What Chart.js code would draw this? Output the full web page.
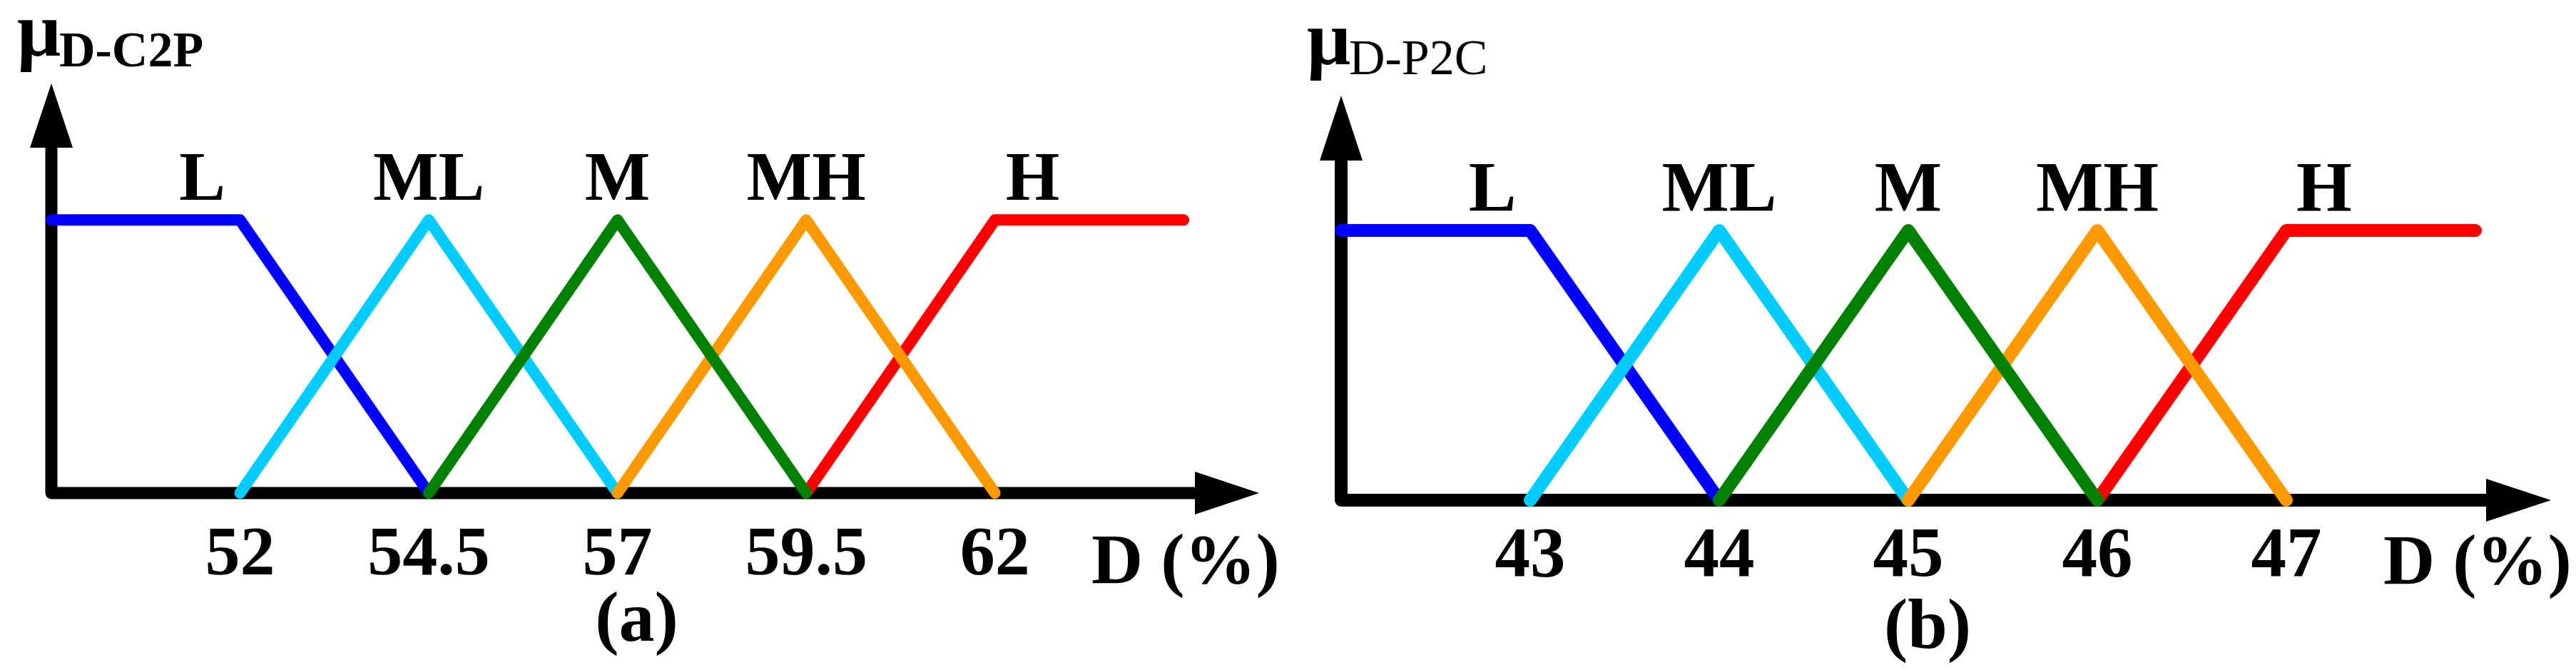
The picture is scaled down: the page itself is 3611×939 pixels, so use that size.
<!DOCTYPE html>
<html>
<head>
<meta charset="utf-8">
<script src="https://cdn.jsdelivr.net/npm/chart.js@4.4.0/dist/chart.umd.min.js"></script>
<style>
  body { margin: 0; background: #fff; width: 3611px; height: 939px; position: relative; overflow: hidden; }
  .panel { position: absolute; top: 0; height: 939px; }
</style>
</head>
<body>
<div class="panel" style="left:0;width:1800px"><canvas id="chartC2P" width="1800" height="939"></canvas></div>
<div class="panel" style="left:1800px;width:1811px"><canvas id="chartP2C" width="1811" height="939"></canvas></div>
<script>
/* Membership terms */
const termNames = ['L', 'ML', 'M', 'MH', 'H'];
const termColors = ['#0000ff', '#00ccff', '#008000', '#ff9900', '#ff0000'];
const termOrder = [4, 3, 0, 1, 2]; // lower = drawn on top
const termY = 1.075;

/* (a) duty cycle C2P */
const c2pTicks = [52, 54.5, 57, 59.5, 62];
const c2pL  = [[49.5, 1], [52, 1], [54.5, 0]];
const c2pML = [[52, 0], [54.5, 1], [57, 0]];
const c2pM  = [[54.5, 0], [57, 1], [59.5, 0]];
const c2pMH = [[57, 0], [59.5, 1], [62, 0]];
const c2pH  = [[59.5, 0], [62, 1], [64.5, 1]];
const c2pTermX = [51.5, 54.5, 57, 59.5, 62.5];

/* (b) duty cycle P2C */
const p2cTicks = [43, 44, 45, 46, 47];
const p2cL  = [[42, 1], [43, 1], [44, 0]];
const p2cML = [[43, 0], [44, 1], [45, 0]];
const p2cM  = [[44, 0], [45, 1], [46, 0]];
const p2cMH = [[45, 0], [46, 1], [47, 0]];
const p2cH  = [[46, 0], [47, 1], [48, 1]];
const p2cTermX = [42.8, 44, 45, 46, 47.2];

const serif = '"Liberation Serif", "Times New Roman", serif';

/* Axes with arrows, term names, titles */
const decor = {
  id: 'decor',
  beforeDatasetsDraw(chart, args, o) {
    const ctx = chart.ctx, a = chart.chartArea;
    ctx.save();
    ctx.strokeStyle = '#000';
    ctx.fillStyle = '#000';
    ctx.lineWidth = o.axisWidth;
    ctx.lineJoin = 'round';
    ctx.beginPath();
    ctx.moveTo(a.left, a.top + o.arrowLen - 2);
    ctx.lineTo(a.left, a.bottom);
    ctx.lineTo(a.right - o.arrowLen + 2, a.bottom);
    ctx.stroke();
    ctx.beginPath();
    ctx.moveTo(a.left, a.top);
    ctx.lineTo(a.left - o.arrowHalf, a.top + o.arrowLen);
    ctx.lineTo(a.left + o.arrowHalf, a.top + o.arrowLen);
    ctx.closePath();
    ctx.fill();
    ctx.beginPath();
    ctx.moveTo(a.right, a.bottom);
    ctx.lineTo(a.right - o.arrowLen, a.bottom - o.arrowHalf);
    ctx.lineTo(a.right - o.arrowLen, a.bottom + o.arrowHalf);
    ctx.closePath();
    ctx.fill();
    ctx.restore();
  },
  afterDraw(chart, args, o) {
    const ctx = chart.ctx, a = chart.chartArea;
    const xs = chart.scales.x, ys = chart.scales.y;
    ctx.save();
    ctx.fillStyle = '#000';
    ctx.textBaseline = 'alphabetic';

    ctx.textAlign = 'center';
    ctx.font = 'bold ' + o.termSize + 'px ' + serif;
    o.termX.forEach((v, i) => {
      ctx.fillText(termNames[i], xs.getPixelForValue(v), ys.getPixelForValue(termY));
    });

    ctx.textAlign = 'left';
    ctx.font = 'bold 108px ' + serif;
    ctx.fillText('\u03bc', a.left - 48, o.muY);
    ctx.font = o.subWeight + ' 70px ' + serif;
    ctx.fillText(o.sub, a.left + 11, o.subY);

    ctx.font = 'bold 100px ' + serif;
    ctx.fillText('D (%)', a.right - 235, o.unitY);

    ctx.textAlign = 'center';
    ctx.fillText(o.tag, (a.left + a.right) / 2 - 26, o.tagY);
    ctx.restore();
  }
};

function membershipChart(id, p) {
  return new Chart(document.getElementById(id), {
    type: 'line',
    data: {
      datasets: p.series.map((pts, i) => ({
        label: termNames[i],
        data: pts.map(q => ({ x: q[0], y: q[1] })),
        borderColor: termColors[i],
        borderWidth: p.lineWidth,
        borderCapStyle: 'round',
        borderJoinStyle: 'round',
        pointRadius: 0,
        pointHoverRadius: 0,
        tension: 0,
        clip: false,
        order: termOrder[i]
      }))
    },
    options: {
      responsive: false,
      animation: false,
      devicePixelRatio: 1,
      events: [],
      layout: { padding: p.padding },
      plugins: {
        legend: { display: false },
        tooltip: { enabled: false },
        decor: p.decor
      },
      scales: {
        x: {
          type: 'linear',
          position: 'bottom',
          min: p.min,
          max: p.max,
          grid: { display: false, drawTicks: false },
          border: { display: false },
          afterBuildTicks: s => { s.ticks = p.ticks.map(v => ({ value: v })); },
          afterFit: s => { s.height = 200; },
          ticks: {
            color: '#000',
            padding: p.tickPad,
            maxRotation: 0,
            autoSkip: false,
            font: { family: serif, weight: 'bold', size: p.tickSize, lineHeight: 1.2 },
            callback: v => String(v)
          }
        },
        y: { type: 'linear', min: 0, max: 1.5, display: false }
      }
    },
    plugins: [decor]
  });
}

membershipChart('chartC2P', {
  series: [c2pL, c2pML, c2pM, c2pMH, c2pH],
  ticks: c2pTicks,
  min: 49.5, max: 65.5,
  lineWidth: 16,
  tickSize: 98, tickPad: 30,
  padding: { left: 72, right: 35, top: 117, bottom: 48 },
  decor: {
    axisWidth: 17, arrowLen: 90, arrowHalf: 30,
    termX: c2pTermX, termSize: 97,
    sub: 'D-C2P', subWeight: 'bold', muY: 78, subY: 93,
    unitY: 817, tag: '(a)', tagY: 898
  }
});

membershipChart('chartP2C', {
  series: [p2cL, p2cML, p2cM, p2cMH, p2cH],
  ticks: p2cTicks,
  min: 42, max: 48.4,
  lineWidth: 18,
  tickSize: 99, tickPad: 21,
  padding: { left: 80, right: 35, top: 134, bottom: 38 },
  decor: {
    axisWidth: 18, arrowLen: 91, arrowHalf: 30,
    termX: p2cTermX, termSize: 100,
    sub: 'D-P2C', subWeight: 'normal', muY: 90, subY: 104,
    unitY: 818, tag: '(b)', tagY: 908
  }
});
</script>
</body>
</html>
